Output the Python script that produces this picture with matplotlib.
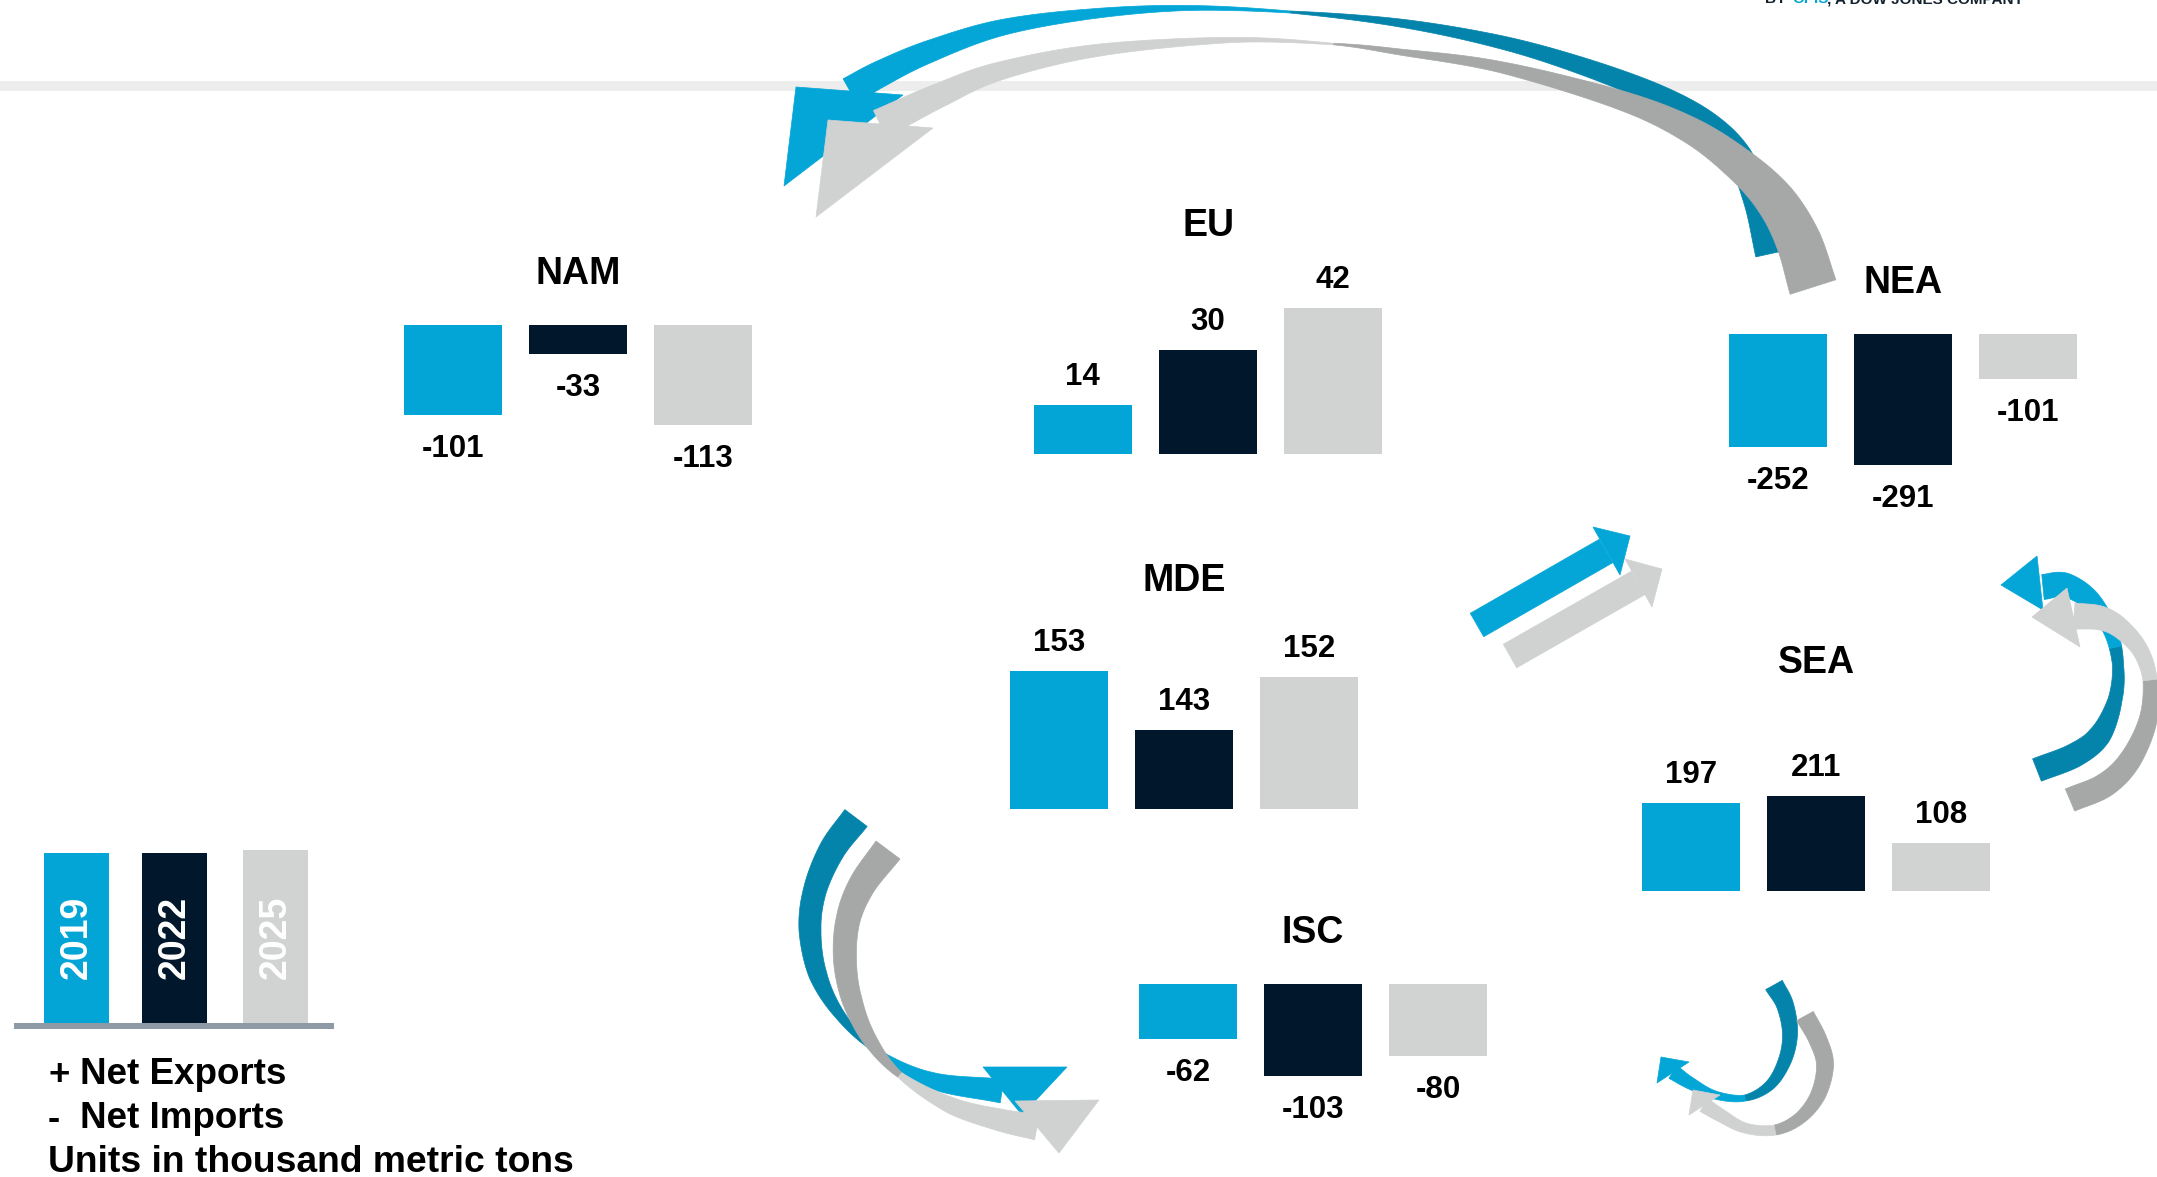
import numpy as np
import matplotlib.pyplot as plt
from matplotlib.patches import Polygon, Rectangle

plt.rcParams['font.family'] = ['Liberation Sans', 'DejaVu Sans']
plt.rcParams['font.weight'] = 'bold'

W, H = 2157, 1177

# net trade by region, thousand metric tons
years = ['2019', '2022', '2025']
year_colors = ['#02a5d5', '#01172b', '#d1d3d2']

regions = ['NAM', 'EU', 'NEA', 'MDE', 'SEA', 'ISC']
nam = [-101, -33, -113]
eu = [14, 30, 42]
nea = [-252, -291, -101]
mde = [153, 143, 152]
sea = [197, 211, 108]
isc = [-62, -103, -80]

# where each little bar group sits: left edge, baseline (px from top), px per unit, axis floor
layout = {
    'NAM': (nam, 404, 325, 0.887, 0),
    'EU': (eu, 1034, 454, 3.47, 0),
    'NEA': (nea, 1729, 334, 0.4485, 0),
    'MDE': (mde, 1010, 809, 5.915, 129.7),
    'SEA': (sea, 1642, 891, 0.4485, 0),
    'ISC': (isc, 1139, 984, 0.894, 0),
}
PITCH, BARW = 125.2, 97.7

BLUE, BLUE_D = '#03a6d6', '#0484ab'
GREY, GREY_D = '#d0d2d1', '#a6a8a7'

fig = plt.figure(figsize=(W / 100, H / 100), dpi=100)
bg = fig.add_axes([0, 0, 1, 1])
bg.set_xlim(0, W)
bg.set_ylim(H, 0)
bg.axis('off')

N = 60


def smooth(pts):
    # catmull-rom through the guide points, N samples per segment
    p = np.asarray(pts, float)
    p = np.vstack([2 * p[0] - p[1], p, 2 * p[-1] - p[-2]])
    t = np.linspace(0, 1, N, endpoint=False)[:, None]
    out = []
    for i in range(1, len(p) - 2):
        p0, p1, p2, p3 = p[i - 1], p[i], p[i + 1], p[i + 2]
        out.append(0.5 * (2 * p1 + (-p0 + p2) * t + (2 * p0 - 5 * p1 + 4 * p2 - p3) * t ** 2
                          + (-p0 + 3 * p1 - 3 * p2 + p3) * t ** 3))
    out.append(p[-2][None])
    return np.vstack(out)


def ribbon(pts, widths, head, tail_col, head_col, split=0, z=2):
    # widths are given per guide point, split is the guide index where the colour flips
    c = smooth(pts)
    u = np.arange(len(c)) / N
    w = np.interp(u, np.arange(len(pts)), widths)
    d = np.gradient(c, axis=0)
    d /= np.hypot(d[:, 0], d[:, 1])[:, None]
    nrm = np.column_stack([-d[:, 1], d[:, 0]])
    lft = c + nrm * w[:, None] / 2
    rgt = c - nrm * w[:, None] / 2
    k = int(split * N)
    for sl, col in ((slice(0, k + 1), tail_col), (slice(k, None), head_col)):
        if len(c[sl]) < 2:
            continue
        poly = np.vstack([lft[sl], rgt[sl][::-1]])
        bg.add_patch(Polygon(poly, closed=True, fc=col, ec=col, lw=0.5, zorder=z))
    bg.add_patch(Polygon(head, closed=True, fc=head_col, ec=head_col, lw=0.5, zorder=z))


# header rule and the cut-off tagline
bg.add_patch(Rectangle((0, 81), W, 10, fc='#ededed', ec='none', zorder=1))
bg.text(1765, 3, 'BY', color='#13222f', fontsize=11, va='baseline')
bg.text(1792, 3, 'OPIS', color=BLUE, fontsize=11, va='baseline')
bg.text(1827, 3, ', A DOW JONES COMPANY', color='#13222f', fontsize=11, va='baseline')

# NEA -> NAM, big arc over the top
ribbon([(1769, 254), (1757, 200), (1738, 155), (1705, 122), (1655, 94), (1582, 66), (1500, 42),
        (1400, 23), (1290, 12), (1187, 8), (1090, 14), (1000, 28), (928, 52), (880, 74), (850, 91)],
       [27, 27, 26, 24, 21, 17, 13, 8, 2, 5, 10, 16, 22, 26, 28],
       [(796, 87), (784, 186), (903, 95)], BLUE_D, BLUE, split=8)
ribbon([(1813, 287), (1798, 240), (1775, 200), (1740, 165), (1690, 130), (1620, 100), (1500, 67),
        (1400, 52), (1333, 44), (1233, 40), (1100, 50), (1000, 71), (940, 95), (880, 124)],
       [48, 45, 40, 33, 26, 19, 11, 6, 1.5, 5, 12, 18, 24, 30],
       [(828, 120), (816, 217), (933, 128)], GREY_D, GREY, split=8, z=3)

# MDE -> NEA, straight
ribbon([(1477, 625), (1606, 551)], [27, 27],
       [(1593, 527), (1630, 536), (1620, 575)], BLUE, BLUE)
ribbon([(1510, 656), (1638, 583)], [27, 27],
       [(1625, 559), (1662, 569), (1652, 607)], GREY, GREY, z=3)

# SEA -> NEA, hook on the right
ribbon([(2037, 770), (2075, 755), (2100, 735), (2115, 700), (2118, 665), (2110, 630), (2090, 600),
        (2065, 585), (2043, 587)],
       [24, 24, 22, 14, 11, 14, 20, 24, 25],
       [(2037, 556), (2001, 585), (2043, 610)], BLUE_D, BLUE, split=4.5)
ribbon([(2070, 800), (2105, 785), (2130, 760), (2148, 720), (2150, 680), (2140, 650), (2120, 628),
        (2100, 618), (2074, 616)],
       [24, 24, 22, 18, 14, 16, 20, 24, 26],
       [(2067, 588), (2032, 617), (2080, 647)], GREY_D, GREY, split=4, z=3)

# MDE -> ISC, sweep on the left
ribbon([(856, 818), (832, 850), (815, 890), (810, 930), (818, 975), (840, 1015), (875, 1050),
        (930, 1080), (1002, 1091)],
       [28, 26, 23, 22, 18, 10, 4, 16, 24],
       [(983, 1067), (1067, 1067), (1022, 1115)], BLUE_D, BLUE, split=6)
ribbon([(888, 850), (862, 885), (848, 920), (845, 960), (852, 1000), (870, 1040), (900, 1075),
        (950, 1105), (1000, 1120), (1037, 1127)],
       [30, 27, 24, 23, 20, 14, 6, 16, 22, 26],
       [(1015, 1101), (1099, 1100), (1059, 1153)], GREY_D, GREY, split=6, z=3)

# ISC -> SEA, small hook at the bottom
ribbon([(1774, 985), (1785, 1005), (1790, 1033), (1785, 1060), (1770, 1085), (1745, 1098),
        (1715, 1095), (1690, 1083), (1673, 1072)],
       [19, 17, 15, 13, 10, 6, 8, 12, 15],
       [(1689, 1062), (1661, 1057), (1657, 1083)], BLUE_D, BLUE, split=5)
ribbon([(1805, 1016), (1818, 1040), (1825, 1065), (1818, 1095), (1800, 1118), (1775, 1130),
        (1745, 1128), (1720, 1115), (1704, 1105)],
       [19, 18, 17, 15, 12, 10, 10, 13, 15],
       [(1720, 1095), (1693, 1090), (1689, 1115)], GREY_D, GREY, split=5, z=3)

# one small bar chart per region
AH = 200
for name in regions:
    vals, x0, base, scale, floor = layout[name]
    left = (x0 - (PITCH - BARW) / 2) / W
    width = 3 * PITCH / W
    neg = vals[0] < 0
    if neg:
        ax = fig.add_axes([left, 1 - (base + AH) / H, width, AH / H])
        ax.set_ylim(-AH / scale, 0)
    else:
        ax = fig.add_axes([left, 1 - base / H, width, AH / H])
        ax.set_ylim(floor, floor + AH / scale)
    ax.set_xlim(-0.5, 2.5)
    ax.axis('off')
    ax.patch.set_alpha(0)
    ax.bar(range(3), vals, width=BARW / PITCH, color=year_colors)
    for i, v in enumerate(vals):
        ax.annotate(str(v), (i, v), xytext=(0, -24.5 if neg else 20.2), textcoords='offset points',
                    ha='center', va='center', fontsize=22.5, fontweight='bold',
                    annotation_clip=False)
    cx = x0 + PITCH + BARW / 2
    bg.text(cx, base - (51 if neg else 228), name, ha='center', va='center',
            fontsize=27, fontweight='bold')

# year key
key_x = [44, 142, 243]
key_top = [853, 853, 850]
for yr, col, kx, kt in zip(years, year_colors, key_x, key_top):
    bg.add_patch(Rectangle((kx, kt), 65, 1025 - kt, fc=col, ec='none'))
    bg.text(kx + 33, 937, yr, rotation=90, ha='center', va='center', color='white',
            fontsize=27, fontweight='bold')
bg.add_patch(Rectangle((14, 1023), 320, 6, fc='#8e9aa5', ec='none'))

bg.text(48, 1075, '+', fontsize=26.5, va='center')
bg.text(80, 1075, 'Net Exports', fontsize=26.5, va='center')
bg.text(48, 1119, '-', fontsize=26.5, va='center')
bg.text(80, 1119, 'Net Imports', fontsize=26.5, va='center')
bg.text(48, 1162, 'Units in thousand metric tons', fontsize=26.8, va='center')

fig.savefig('out.png', dpi=100)
